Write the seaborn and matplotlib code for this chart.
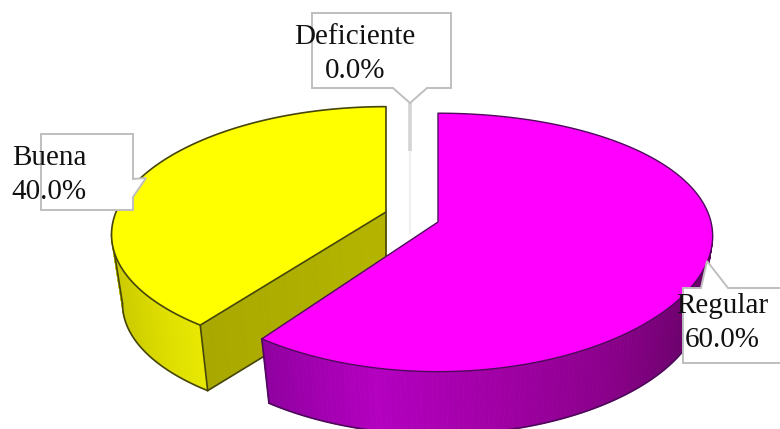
#!/usr/bin/env python

import numpy as np
import matplotlib
matplotlib.use("Agg")
import matplotlib.pyplot as plt
from matplotlib.patches import Polygon
import seaborn as sns

# chart data
labels = ["Regular", "Buena", "Deficiente"]
shares = [60.0, 40.0, 0.0]

# look of the fake 3d pie, in pixels
tilt = 0.158
tilt_x = [0.11, 0.18, 0.10]
rad_x = [273, 270, 273]
rad_y = [126, 122, 126]
depth = [69, 70, 0]
shrink = 0.96
slice_xy = [(438, 222), (386, 212), (410, 212)]
top_cols = ["#ff00ff", "#ffff00", "#d4d4d4"]
edge_cols = ["#4d0a5a", "#45450c", "#d4d4d4"]
side_cols = [["#9000a0", "#b400c0", "#a000a4", "#8a008a", "#6e006e", "#5e005e"],
             ["#c4c400", "#d2d200", "#e8e800"], []]
cut_cols = ["#a8a800", "#b4b400"]

sns.set_theme(style="white")
plt.rcParams["font.family"] = ["Liberation Serif", "DejaVu Serif"]


def disc(theta, i, bottom=False):
    # perspective projection of points on the unit circle
    t = np.radians(theta)
    ux, uy = np.cos(t), np.sin(t)
    s = shrink if bottom else 1.0
    dy = depth[i] if bottom else 0
    px = slice_xy[i][0] + s * rad_x[i] * ux / (1 + tilt_x[i] * uy)
    py = slice_xy[i][1] + dy - s * rad_y[i] * uy / (1 + tilt * uy)
    return np.column_stack([px, py])


fig = plt.figure(figsize=(7.8, 4.29), dpi=100)
ax = fig.add_axes([0, 0, 1, 1])

# the pie only gives the angles, the wedges are redrawn projected below
wedges, _ = ax.pie(shares, startangle=90, counterclock=False)
angles = [(w.theta1, w.theta2) for w in wedges]
for w in wedges:
    w.remove()

ax.set_aspect("auto")
ax.set_xlim(0, 780)
ax.set_ylim(429, 0)
ax.axis("off")


def side_wall(i, th_a, th_b, z, n=120):
    th = np.linspace(th_a, th_b, n + 1)
    top = disc(th, i)
    low = disc(th, i, bottom=True)
    pal = sns.blend_palette(side_cols[i], n)
    for j in range(n):
        q = [top[j], top[j + 1], low[j + 1], low[j]]
        ax.add_patch(Polygon(q, fc=pal[j], ec=pal[j], lw=0.6, zorder=z))
    ax.plot(low[:, 0], low[:, 1], color=edge_cols[i], lw=1.2, zorder=z + 0.1)
    return top, low


# Buena first, Regular lies in front of it. Clockwise pie: theta2 is the front corner
t1, t2 = angles[1]
y_xy = np.array(slice_xy[1], dtype=float)
corner_top = disc(np.array([t2]), 1)[0]
corner_low = disc(np.array([t2]), 1, bottom=True)[0]
apex_low = y_xy + [0, depth[1]]
n_cut = 30
cut_pal = sns.blend_palette(cut_cols, n_cut)
for j in range(n_cut):
    a = j / n_cut
    b = (j + 1) / n_cut
    q = [corner_top + (y_xy - corner_top) * a,
         corner_top + (y_xy - corner_top) * b,
         corner_low + (apex_low - corner_low) * b,
         corner_low + (apex_low - corner_low) * a]
    ax.add_patch(Polygon(q, fc=cut_pal[j], ec=cut_pal[j], lw=0.6, zorder=1))
ax.plot([corner_low[0], apex_low[0]], [corner_low[1], apex_low[1]],
        color=edge_cols[1], lw=1.2, zorder=1.1)
ax.plot([y_xy[0], apex_low[0]], [y_xy[1], apex_low[1]],
        color=edge_cols[1], lw=1.2, zorder=1.1)

# wall starts where the rim is widest, so the outline has no notch
widest = -180 + np.degrees(np.arcsin(tilt_x[1]))
top, low = side_wall(1, widest, t2, 1.5)
ax.plot([top[0, 0], low[0, 0]], [top[0, 1], low[0, 1]],
        color=edge_cols[1], lw=1.2, zorder=1.7)
ax.plot([corner_top[0], corner_low[0]], [corner_top[1], corner_low[1]],
        color=edge_cols[1], lw=1.2, zorder=1.7)
th = np.linspace(t1, t2, 150)
ax.add_patch(Polygon(np.vstack([[y_xy], disc(th, 1)]), fc=top_cols[1],
                     ec=edge_cols[1], lw=1.2, joinstyle="round", zorder=2))

# Regular: theta runs -126..90, only the front part of the wall shows
t1, t2 = angles[0]
widest = -np.degrees(np.arcsin(tilt_x[0]))
side_wall(0, t1, widest, 2.5)
corner_top = disc(np.array([t1]), 0)[0]
corner_low = disc(np.array([t1]), 0, bottom=True)[0]
ax.plot([corner_top[0], corner_low[0]], [corner_top[1], corner_low[1]],
        color=edge_cols[0], lw=1.2, zorder=2.7)
th = np.linspace(t1, t2, 200)
ax.add_patch(Polygon(np.vstack([[slice_xy[0]], disc(th, 0)]), fc=top_cols[0],
                     ec=edge_cols[0], lw=1.0, joinstyle="round", zorder=3))

# Deficiente has no area, only a pale line is left of it
d_xy = slice_xy[2]
d_top = disc(np.array([angles[2][0]]), 2)[0]
ax.plot([d_top[0], d_top[0]], [d_top[1], d_top[1] + 48], color=edge_cols[2], lw=2.6,
        solid_capstyle="butt", zorder=3)
ax.plot([d_top[0], d_top[0]], [d_top[1] + 48, d_xy[1] + 22], color="#f0f0f0", lw=1.6,
        solid_capstyle="butt", zorder=3)

# callouts
boxes = [
    [(683, 288), (701, 288), (707, 261), (728, 288), (781, 288), (781, 363), (683, 363)],
    [(41, 134), (133, 134), (133, 179), (146, 178), (133, 197), (133, 210), (41, 210)],
    [(312, 13), (451, 13), (451, 88), (427, 88), (410, 103), (393, 88), (312, 88)],
]
text_xy = [(722, 323), (49, 175), (355, 54)]
for lab, val, box, (tx, ty) in zip(labels, shares, boxes, text_xy):
    ax.add_patch(Polygon(box, fc="white", ec="#bfbfbf", lw=1.4, zorder=4))
    ax.text(tx, ty, f"{lab}\n{val:.1f}%", ha="center", va="center", ma="center",
            fontsize=21, color="#111111", linespacing=1.36, zorder=5)

plt.savefig("out.png", dpi=100)
plt.close(fig)
